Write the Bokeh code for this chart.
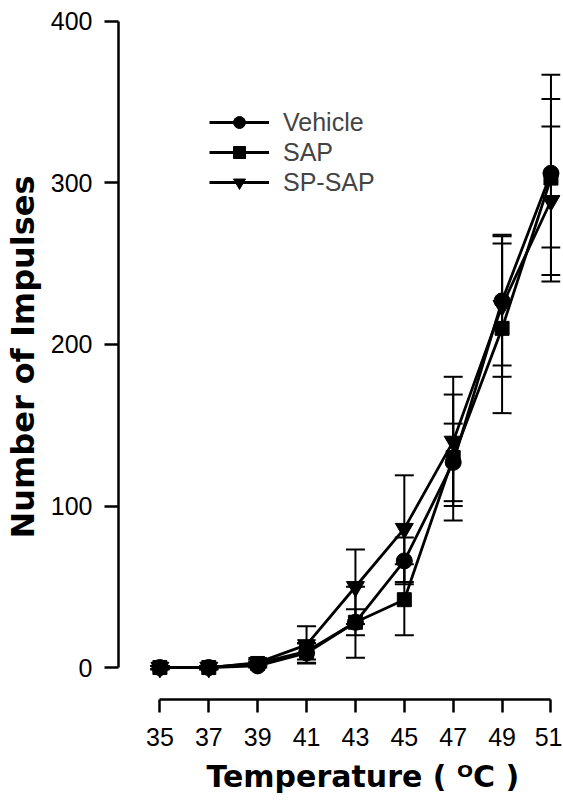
from bokeh.plotting import figure
from bokeh.models import ColumnDataSource, Whisker, TeeHead, Legend, LegendItem, FixedTicker, Range1d, Title
from bokeh.embed import file_html
from bokeh.resources import INLINE

# ---- data ----
temps = [35, 37, 39, 41, 43, 45, 47, 49, 51]
vehicle = [0, 0, 1, 9, 28, 66, 127, 227, 306]
vehicle_err = [1, 1, 1, 6, 8, 14.5, 24, 40, 46]
sap = [0, 0, 2.5, 10, 28, 42, 130, 210, 303]
sap_err = [1, 1, 1, 5, 22, 22, 39, 52.5, 64]
spsap = [0, 0, 3, 14, 50, 86, 140, 224, 289]
spsap_err = [1, 1, 2, 11.5, 23, 33, 40, 44, 46]
x_ticks = [35, 37, 39, 41, 43, 45, 47, 49, 51]
y_ticks = [0, 100, 200, 300, 400]
x_title = "Temperature ( \u1d3cC )"
y_title = "Number of Impulses"

series = [
    ("Vehicle", vehicle, vehicle_err, "circle", 16),
    ("SAP", sap, sap_err, "square", 14),
    ("SP-SAP", spsap, spsap_err, "inverted_triangle", 18),
]

p = figure(width=562, height=802, output_backend="svg", toolbar_location=None,
           x_range=Range1d(33.306, 51.39), y_range=Range1d(-19.8, 404.3),
           min_border_left=117, min_border_right=2, min_border_top=14, min_border_bottom=103)
p.outline_line_color = None
p.xgrid.visible = False
p.ygrid.visible = False
p.background_fill_color = "white"

items = []
for name, vals, errs, marker, size in series:
    src = ColumnDataSource(dict(x=temps, y=vals,
                                lo=[v - e for v, e in zip(vals, errs)],
                                hi=[v + e for v, e in zip(vals, errs)]))
    w = Whisker(base="x", upper="hi", lower="lo", source=src, dimension="height",
                line_color="black", line_width=2,
                upper_head=TeeHead(size=19, line_width=2, line_color="black"),
                lower_head=TeeHead(size=19, line_width=2, line_color="black"))
    p.add_layout(w)
    r1 = p.line("x", "y", source=src, line_color="black", line_width=2.8)
    r2 = p.scatter("x", "y", source=src, marker=marker, size=size,
                   fill_color="black", line_color="black")
    items.append(LegendItem(label=name, renderers=[r1, r2]))

legend = Legend(items=items, location=(91, 502), orientation="vertical",
                glyph_width=60, glyph_height=30, label_height=24, spacing=0,
                padding=0, margin=0, label_standoff=14,
                label_text_font="Liberation Sans", label_text_font_size="25px",
                border_line_alpha=0, background_fill_alpha=0)
p.add_layout(legend, "center")

ax = p.xaxis[0]
ax.ticker = FixedTicker(ticks=x_ticks)
ax.bounds = (35, 51)
ay = p.yaxis[0]
ay.ticker = FixedTicker(ticks=y_ticks)
ay.bounds = (0, 400)
ay.axis_label = y_title

for a in (ax, ay):
    a.axis_line_width = 2.5
    a.major_tick_line_width = 2.5
    a.minor_tick_line_color = None
    a.major_tick_in = 0
    a.major_label_text_font = "Liberation Sans"
    a.major_label_text_font_size = "25px"
    a.major_label_text_color = "black"
    a.axis_label_text_font = "DejaVu Sans"
    a.axis_label_text_font_style = "bold"
    a.axis_label_text_color = "black"

ax.major_tick_out = 13
ax.major_label_standoff = 15
ay.major_tick_out = 14
ay.major_label_standoff = 12
ay.axis_label_text_font_size = "32px"
ay.axis_label_standoff = 6

t = Title(text=x_title, align="left", offset=88, text_font="DejaVu Sans",
          text_font_style="bold", text_font_size="30px", text_color="black", standoff=16)
p.add_layout(t, "below")

open("out.html", "w").write(file_html(p, INLINE))
